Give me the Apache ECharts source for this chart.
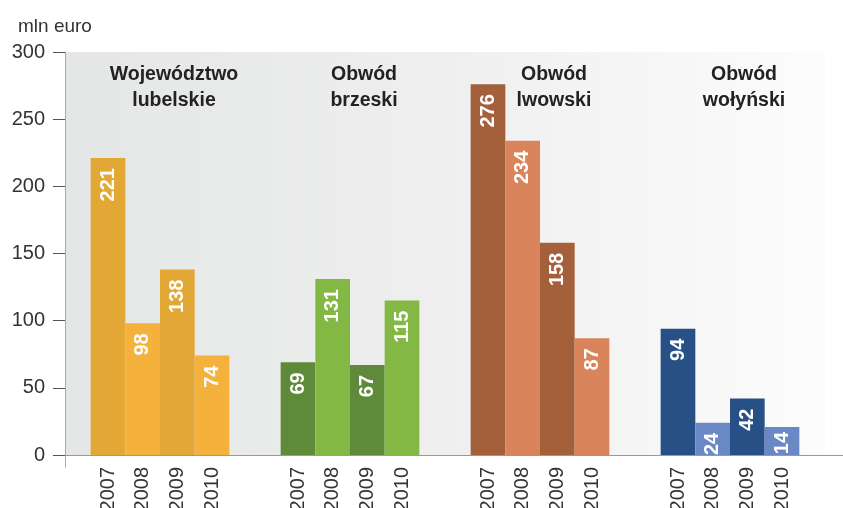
<!DOCTYPE html>
<html>
<head>
<meta charset="utf-8">
<script src="https://cdn.jsdelivr.net/npm/echarts@6/dist/echarts.min.js"></script>
<style>
  html, body { margin: 0; padding: 0; background: #fff; }
  #chart { width: 843px; height: 508px; }
</style>
</head>
<body>
<div id="chart"></div>
<script>
// regions (groups) and years
let regions = ['Województwo\nlubelskie', 'Obwód\nbrzeski', 'Obwód\nlwowski', 'Obwód\nwołyński'];
let years = ['2007', '2008', '2009', '2010'];

// values in mln euro, one array per year, in region order
let v2007 = [221, 69, 276, 94];
let v2008 = [98, 131, 234, 24];
let v2009 = [138, 67, 158, 42];
let v2010 = [74, 115, 87, 14];

let darkColors = ['#e3a735', '#5f8a3a', '#a3603a', '#275087'];
let lightColors = ['#f4b13c', '#84b844', '#d9845a', '#6a88c5'];

let yTicks = [0, 50, 100, 150, 200, 250, 300];

const SANS = '"Liberation Sans", Arial, sans-serif';

function getOption() {
    let values = [v2007, v2008, v2009, v2010];
    let barCommon = {
        type: 'bar',
        barGap: '0%',
        barCategoryGap: '27%',
        barMinHeight: 28,
    };

    let series = [];
    values.forEach((vals, i) => {
        let palette = (i % 2 === 0) ? darkColors : lightColors;
        series.push(Object.assign({}, barCommon, {
            name: years[i],
            xAxisIndex: 0,
            z: 3,
            data: vals.map((v, j) => {
                let item = { value: v, itemStyle: { color: palette[j] } };
                // short bars: keep the number inside the bar
                if (v < 20) item.label = { distance: 5 };
                return item;
            }),
            label: {
                show: true,
                position: 'insideTop',
                rotate: 90,
                align: 'right',
                verticalAlign: 'middle',
                distance: 10,
                color: '#fff',
                fontFamily: SANS,
                fontWeight: 'bold',
                fontSize: 20,
            },
        }));
    });
    // year labels under each bar, drawn by transparent twins on a hidden axis
    values.forEach((vals, i) => {
        series.push(Object.assign({}, barCommon, {
            name: years[i] + '-label',
            xAxisIndex: 1,
            silent: true,
            z: 1,
            itemStyle: { color: 'rgba(0,0,0,0)' },
            data: vals,
            label: {
                show: true,
                position: 'bottom',
                rotate: 90,
                align: 'right',
                verticalAlign: 'middle',
                distance: 12,
                formatter: years[i],
                color: '#333',
                fontFamily: SANS,
                fontSize: 20,
            },
        }));
    });

    return {
        animation: false,
        title: {
            text: 'mln euro',
            left: 13,
            top: 12,
            textStyle: { fontFamily: SANS, fontWeight: 'normal', fontSize: 19, color: '#333' },
        },
        grid: {
            left: 65, right: 18, top: 52, bottom: 53,
            show: true,
            borderWidth: 0,
            backgroundColor: new echarts.graphic.LinearGradient(0, 0, 1, 0, [
                { offset: 0, color: '#e4e7e6' },
                { offset: 0.5, color: '#eeefee' },
                { offset: 1, color: '#fcfcfc' },
            ]),
        },
        xAxis: [{
            type: 'category',
            data: regions,
            axisLine: { lineStyle: { color: '#9a9a9a', width: 1 } },
            axisTick: { show: false },
            axisLabel: { show: false },
        }, {
            type: 'category',
            data: regions,
            show: false,
        }, {
            type: 'category',
            data: regions,
            position: 'top',
            axisLine: { show: false },
            axisTick: { show: false },
            axisLabel: {
                interval: 0,
                inside: true,
                margin: 10,
                padding: [0, 0, 0, 28],
                fontFamily: SANS,
                fontWeight: 'bold',
                fontSize: 19.5,
                lineHeight: 26,
                color: '#222',
            },
        }],
        yAxis: {
            type: 'value',
            min: yTicks[0],
            max: yTicks[yTicks.length - 1],
            interval: 50,
            splitLine: { show: false },
            axisLine: { show: true, lineStyle: { color: '#aaa' } },
            axisTick: { show: true, length: 12, lineStyle: { color: '#555' } },
            axisLabel: { margin: 20, fontFamily: SANS, fontSize: 20, color: '#333' },
        },
        series: series,
    };
}

let myChart = echarts.init(document.getElementById('chart'));
myChart.setOption(getOption());

// axis line continues to the right edge, y axis line dips below zero
let zeroPt = myChart.convertToPixel({ xAxisIndex: 0, yAxisIndex: 0 }, [0, 0]);
let y0 = Math.round(zeroPt[1]) + 0.5;
let gridRight = 843 - 18;
myChart.setOption({
    graphic: [{
        type: 'line',
        shape: { x1: gridRight, y1: y0, x2: 843, y2: y0 },
        style: { stroke: '#9a9a9a', lineWidth: 1 },
    }, {
        type: 'line',
        shape: { x1: 65.5, y1: y0, x2: 65.5, y2: y0 + 12 },
        style: { stroke: '#aaa', lineWidth: 1 },
    }],
});
</script>
</body>
</html>
